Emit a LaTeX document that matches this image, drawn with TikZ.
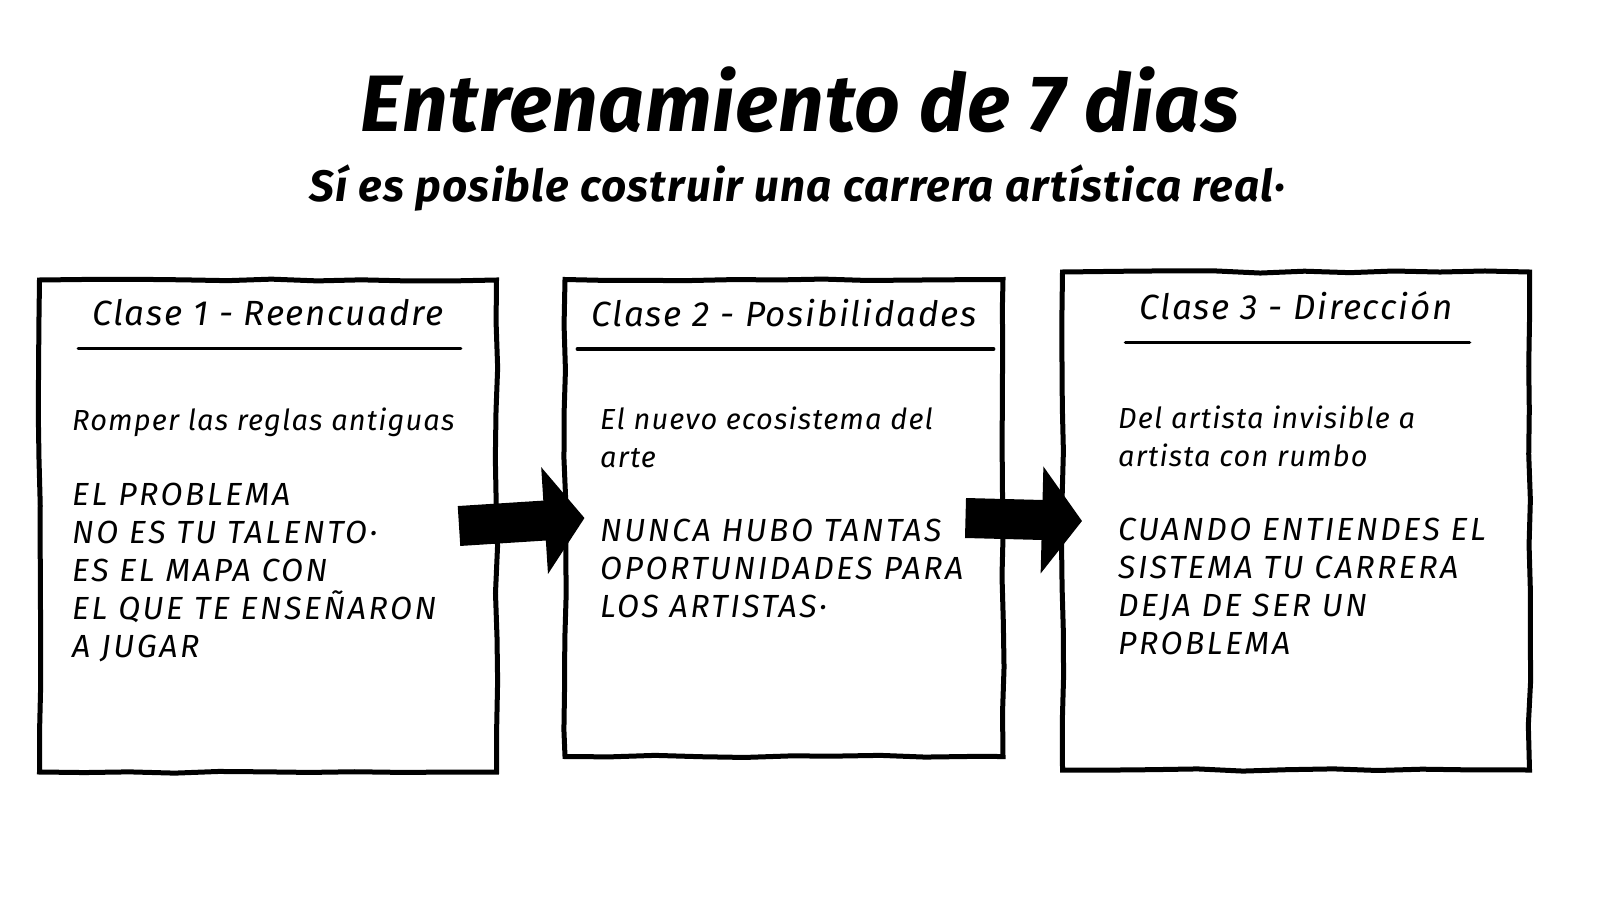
\documentclass[tikz,border=0pt]{standalone}
\usepackage{fontspec}
\setmainfont{Fira Sans}
\usepackage{tikz}
\usetikzlibrary{positioning,decorations.pathmorphing,arrows.meta}

\begin{document}
\begin{tikzpicture}
  [x=1pt,y=-1pt,
   caja/.style={draw,line width=5pt,minimum width=#1,inner sep=0pt,
     decorate,decoration={random steps,segment length=45pt,amplitude=1.2pt}},
   encabezado/.style={font=\fontsize{35}{40}\selectfont\itshape\addfontfeatures{LetterSpace=5},inner sep=2pt},
   cuerpo/.style={font=\fontsize{29}{38}\selectfont\itshape\addfontfeatures{LetterSpace=4},align=left,anchor=north west,inner sep=0pt},
   mayus/.style={font=\fontsize{32}{38}\selectfont\itshape\addfontfeatures{LetterSpace=8},align=left,anchor=north west,inner sep=0pt},
   raya/.style={line width=3.5pt,line cap=round},
   flecha/.style={line width=40pt,-{Triangle[length=40pt,width=105pt]}}]
  \useasboundingbox (0,0) rectangle (1600,899);
  % titulos
  \node[font=\fontsize{80}{90}\selectfont\itshape\bfseries\addfontfeatures{LetterSpace=1}] (titulo) at (800,100) {Entrenamiento de 7 dias};
  \node[font=\fontsize{44}{50}\selectfont\itshape\bfseries\addfontfeatures{LetterSpace=3}] (sub) at (797,188) {Sí es posible costruir una carrera artística real·};
  % cajas
  \node[caja=457pt,minimum height=492pt] (c1) at (268,526) {};
  \node[caja=438pt,minimum height=477pt] (c2) at (784,518) {};
  \node[caja=467pt,minimum height=498pt] (c3) at (1296,521) {};
  \node[encabezado,below=20pt of c1.north] (t1) {Clase 1 - Reencuadre};
  \node[encabezado,below=20pt of c2.north] (t2) {Clase 2 - Posibilidades};
  \node[encabezado,below=20pt of c3.north] (t3) {Clase 3 - Dirección};
  \foreach \t in {t1,t2,t3}
    \draw[raya] ([xshift=-12pt,yshift=-20pt]\t.south west) -- ([xshift=15pt,yshift=-20pt]\t.south east);
  % textos
  \node[cuerpo] (x1) at (72,408) {Romper las reglas antiguas};
  \node[mayus] (y1) at (72,483) {EL PROBLEMA\\NO ES TU TALENTO·\\ES EL MAPA CON\\EL QUE TE ENSEÑARON\\A JUGAR};
  \node[cuerpo] (x2) at (600,407) {El nuevo ecosistema del\\arte};
  \node[mayus] (y2) at (600,519) {NUNCA HUBO TANTAS\\OPORTUNIDADES PARA\\LOS ARTISTAS·};
  \node[cuerpo] (x3) at (1118,406) {Del artista invisible a\\artista con rumbo};
  \node[mayus] (y3) at (1118,518) {CUANDO ENTIENDES EL\\SISTEMA TU CARRERA\\DEJA DE SER UN\\PROBLEMA};
  % flechas
  \foreach \from/\to in {c1/c2,c2/c3}
    \draw[flecha] ([xshift=-40pt]\from.east) -- ([xshift=22pt]\to.west);
\end{tikzpicture}
\end{document}
